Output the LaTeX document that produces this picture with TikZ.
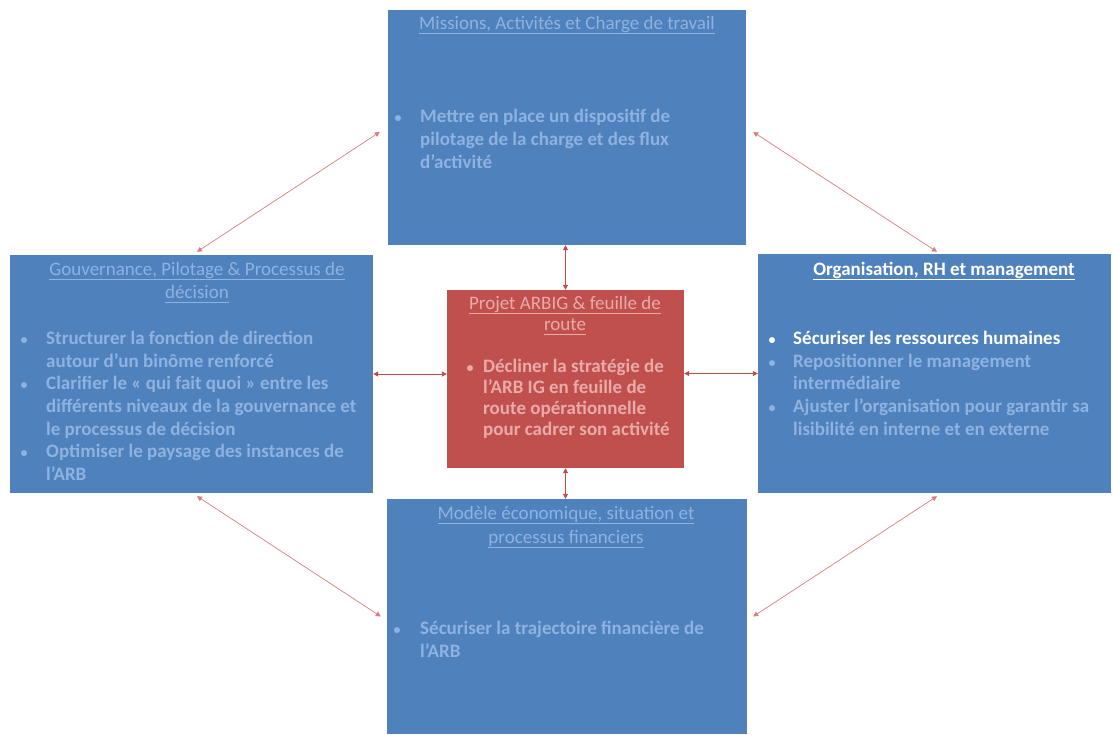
\documentclass[tikz,border=0pt]{standalone}
\usepackage{fontspec}
\setmainfont{Carlito}
\newcommand\ulline[1]{\setbox0\hbox{#1}\rlap{\rule[-4.5pt]{\wd0}{1.1pt}}\box0}
\usetikzlibrary{arrows.meta,fit}
\definecolor{boxblue}{RGB}{79,129,189}
\definecolor{boxred}{RGB}{192,80,77}
\definecolor{fadeblue}{RGB}{142,178,225}
\definecolor{fadered}{RGB}{234,170,168}
\definecolor{arrowred}{RGB}{190,75,72}
\definecolor{diagred}{RGB}{214,128,126}
\begin{document}
\begin{tikzpicture}[x=1pt,y=-1pt,
  bluebox/.style={fill=boxblue, draw=none, inner sep=0pt},
  redbox/.style={fill=boxred, draw=none, inner sep=0pt},
  ttl/.style={font=\fontsize{19}{23}\selectfont, anchor=mid, inner sep=0pt},
  txt/.style={font=\fontsize{19}{23}\selectfont\bfseries, anchor=mid west, inner sep=0pt},
  bul/.style={font=\fontsize{14}{16}\selectfont\bfseries, anchor=mid, inner sep=0pt},
  link/.style={draw=arrowred, line width=0.9pt, {Triangle[length=5pt,width=5pt]}-{Triangle[length=5pt,width=5pt]}},
  diag/.style={draw=diagred, line width=0.7pt, {Triangle[length=5pt,width=5pt]}-{Triangle[length=5pt,width=5pt]}}
]
\fill[white] (0,0) rectangle (1113,734);
\useasboundingbox (0,0) rectangle (1113,734);

% corner coordinates of the boxes
\coordinate (topA) at (388,10);   \coordinate (topB) at (746,245);
\coordinate (leftA) at (10,255);  \coordinate (leftB) at (373,493);
\coordinate (rightA) at (758,254);\coordinate (rightB) at (1111,493);
\coordinate (botA) at (387,499);  \coordinate (botB) at (747,734);
\coordinate (cenA) at (447,290);  \coordinate (cenB) at (684,468);

% boxes
\node[bluebox, fit=(topA)(topB)] (top) {};
\node[bluebox, fit=(leftA)(leftB)] (left) {};
\node[bluebox, fit=(rightA)(rightB)] (right) {};
\node[bluebox, fit=(botA)(botB)] (bottom) {};
\node[redbox, fit=(cenA)(cenB)] (center) {};

% top box text
\node[ttl, text=fadeblue] (tT) at (567,27) {\ulline{Missions, Activités et Charge de travail}};
\node[bul, text=fadeblue] (tB1) at (398,120) {\textbullet};
\node[txt, text=fadeblue] (t1) at (420,120) {Mettre en place un dispositif de};
\node[txt, text=fadeblue] (t2) at (420,143) {pilotage de la charge et des flux};
\node[txt, text=fadeblue] (t3) at (420,166) {d’activité};

% left box text
\node[ttl, text=fadeblue] (lT1) at (197,273) {\ulline{Gouvernance, Pilotage \& Processus de}};
\node[ttl, text=fadeblue] (lT2) at (197,296) {\ulline{décision}};
\node[bul, text=fadeblue] (lB1) at (24,342) {\textbullet};
\node[txt, text=fadeblue] (l1) at (46,342) {Structurer la fonction de direction};
\node[txt, text=fadeblue] (l2) at (46,364.7) {autour d’un binôme renforcé};
\node[bul, text=fadeblue] (lB2) at (24,387.4) {\textbullet};
\node[txt, text=fadeblue] (l3) at (46,387.4) {Clarifier le « qui fait quoi » entre les};
\node[txt, text=fadeblue] (l4) at (46,410.1) {différents niveaux de la gouvernance et};
\node[txt, text=fadeblue] (l5) at (46,432.8) {le processus de décision};
\node[bul, text=fadeblue] (lB3) at (24,455.5) {\textbullet};
\node[txt, text=fadeblue] (l6) at (46,455.5) {Optimiser le paysage des instances de};
\node[txt, text=fadeblue] (l7) at (46,478.2) {l’ARB};

% center box text
\node[ttl, text=fadered] (cT1) at (565,307) {\ulline{Projet ARBIG \& feuille de}};
\node[ttl, text=fadered] (cT2) at (565,328) {\ulline{route}};
\node[bul, text=fadered] (cB1) at (470,370) {\textbullet};
\node[txt, text=fadered] (c1) at (483,370) {Décliner la stratégie de};
\node[txt, text=fadered] (c2) at (483,391) {l’ARB IG en feuille de};
\node[txt, text=fadered] (c3) at (483,412) {route opérationnelle};
\node[txt, text=fadered] (c4) at (483,433) {pour cadrer son activité};

% right box text
\node[ttl, text=white, font=\fontsize{19}{23}\selectfont\bfseries] (rT) at (944,273) {\ulline{Organisation, RH et management}};
\node[bul, text=white] (rB1) at (772,342) {\textbullet};
\node[txt, text=white] (r1) at (793,342) {Sécuriser les ressources humaines};
\node[bul, text=fadeblue] (rB2) at (772,364.7) {\textbullet};
\node[txt, text=fadeblue] (r2) at (793,364.7) {Repositionner le management};
\node[txt, text=fadeblue] (r3) at (793,387.4) {intermédiaire};
\node[bul, text=fadeblue] (rB3) at (772,410.1) {\textbullet};
\node[txt, text=fadeblue] (r4) at (793,410.1) {Ajuster l’organisation pour garantir sa};
\node[txt, text=fadeblue] (r5) at (793,432.8) {lisibilité en interne et en externe};

% bottom box text
\node[ttl, text=fadeblue] (bT1) at (566,517) {\ulline{Modèle économique, situation et}};
\node[ttl, text=fadeblue] (bT2) at (566,541) {\ulline{processus financiers}};
\node[bul, text=fadeblue] (bB1) at (397,632) {\textbullet};
\node[txt, text=fadeblue] (b1) at (420,632) {Sécuriser la trajectoire financière de};
\node[txt, text=fadeblue] (b2) at (420,655) {l’ARB};

% central connectors
\draw[link] (center.north) -- (center.north |- top.south);
\draw[link] (center.south) -- (center.south |- bottom.north);
\draw[link] (left.east) -- (left.east -| center.west);
\draw[link] (right.west) -- (right.west -| center.east);

% diagonal connectors
\draw[diag] ([shift={(5.5,-3)}]left.north) -- ([shift={(-8,4.5)}]top.west);
\draw[diag] ([shift={(7,4.5)}]top.east) -- ([shift={(2.5,-2)}]right.north);
\draw[diag] ([shift={(5.5,3)}]left.south) -- ([shift={(-6,0)}]bottom.west);
\draw[diag] ([shift={(2.5,3)}]right.south) -- ([shift={(6,0)}]bottom.east);
\end{tikzpicture}
\end{document}
